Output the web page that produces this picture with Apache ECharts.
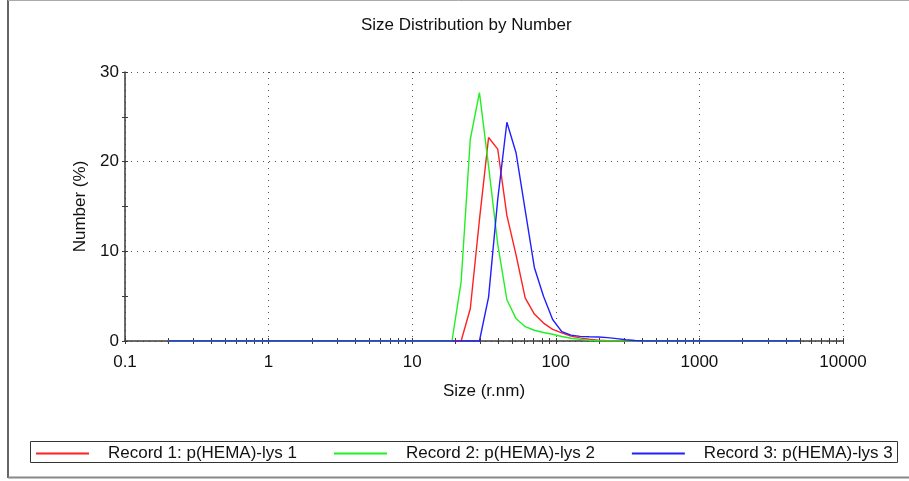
<!DOCTYPE html>
<html>
<head>
<meta charset="utf-8">
<script src="https://cdn.jsdelivr.net/npm/echarts@6/dist/echarts.min.js"></script>
<style>
  html, body { margin: 0; padding: 0; background: #fff; }
  #chart { width: 909px; height: 481px; }
</style>
</head>
<body>
<div id="chart"></div>
<script>
// Size classes (radius, nm)
const sizes = [0.2, 0.2316, 0.2683, 0.3107, 0.3598, 0.4166, 0.4825, 0.5585, 0.647, 0.7495,
  0.868, 1.005, 1.164, 1.348, 1.561, 1.808, 2.094, 2.425, 2.808, 3.252,
  3.766, 4.361, 5.05, 5.85, 6.77, 7.845, 9.085, 10.52, 12.18, 14.11,
  16.34, 18.92, 21.91, 25.38, 29.39, 34.03, 39.41, 45.64, 52.85, 61.2,
  70.9, 82.1, 95.05, 110.1, 127.5, 147.7, 171.0, 198.1, 229.4, 265.6,
  307.6, 356.2, 412.5, 477.7, 553.0, 640.5, 742.0, 859.0, 995.0, 1153,
  1335, 1546, 1790, 2073, 2401, 2780, 3220, 3728, 4318, 5000];

// Number (%) per size class
const record1 = [0, 0, 0, 0, 0, 0, 0, 0, 0, 0,
  0, 0, 0, 0, 0, 0, 0, 0, 0, 0,
  0, 0, 0, 0, 0, 0, 0, 0, 0, 0,
  0, 0, 0, 3.6, 13.5, 22.7, 21.4, 14.0, 9.6, 4.8,
  3.0, 2.0, 1.3, 0.9, 0.55, 0.35, 0.2, 0.1, 0.03, 0,
  0, 0, 0, 0, 0, 0, 0, 0, 0, 0,
  0, 0, 0, 0, 0, 0, 0, 0, 0, 0];
const record2 = [0, 0, 0, 0, 0, 0, 0, 0, 0, 0,
  0, 0, 0, 0, 0, 0, 0, 0, 0, 0,
  0, 0, 0, 0, 0, 0, 0, 0, 0, 0,
  0, 0, 6.6, 22.5, 27.7, 19.5, 10.8, 4.6, 2.5, 1.6,
  1.2, 0.95, 0.75, 0.5, 0.3, 0.18, 0.08, 0.02, 0, 0,
  0, 0, 0, 0, 0, 0, 0, 0, 0, 0,
  0, 0, 0, 0, 0, 0, 0, 0, 0, 0];
const record3 = [0, 0, 0, 0, 0, 0, 0, 0, 0, 0,
  0, 0, 0, 0, 0, 0, 0, 0, 0, 0,
  0, 0, 0, 0, 0, 0, 0, 0, 0, 0,
  0, 0, 0, 0, 0, 4.9, 15.8, 24.4, 21.0, 14.6,
  8.2, 5.0, 2.4, 1.05, 0.65, 0.52, 0.47, 0.45, 0.38, 0.26,
  0.14, 0.05, 0, 0, 0, 0, 0, 0, 0, 0,
  0, 0, 0, 0, 0, 0, 0, 0, 0, 0];

const seriesNames = ['Record 1: p(HEMA)-lys 1', 'Record 2: p(HEMA)-lys 2', 'Record 3: p(HEMA)-lys 3'];
const seriesColors = ['#ff2020', '#20f020', '#2020ff'];
const xTickLabels = [0.1, 1, 10, 100, 1000, 10000];

// Log-axis tick marks: decades plus 2..9 within each decade
const xTickValues = [];
for (let d = 0.1; d < 10000; d *= 10) {
  for (let m = 1; m < 10; m++) xTickValues.push(+(d * m).toPrecision(3));
}
xTickValues.push(10000);

const FONT = '"Liberation Sans", Arial, sans-serif';
const FS = 17;
const AXIS_COLOR = '#3a3a3a';
const DOTS = { color: '#555', type: [1, 5], width: 1 };

const pairs = (vals) => sizes.map((s, i) => [s, vals[i]]);

// Main x axis: line, labels, dotted decade grid
const xMain = {
  type: 'log', logBase: 10, min: 0.1, max: 10000, position: 'bottom',
  axisLine: { show: true, lineStyle: { color: AXIS_COLOR, width: 1.5 } },
  axisTick: { show: false },
  axisLabel: { margin: 13, color: '#111', fontFamily: FONT, fontSize: FS,
    customValues: xTickLabels, formatter: (v) => String(v) },
  splitLine: { show: true, lineStyle: DOTS },
  name: 'Size (r.nm)', nameLocation: 'middle', nameGap: 42,
  nameTextStyle: { color: '#111', fontFamily: FONT, fontSize: FS }
};
// Tick-only x axes (outside and inside halves of each tick mark)
function xTicks(inside) {
  return {
    type: 'log', logBase: 10, min: 0.1, max: 10000, position: 'bottom',
    axisLine: { show: false },
    axisTick: { show: true, inside: inside, length: 3, customValues: xTickValues,
      lineStyle: { color: AXIS_COLOR, width: 1 } },
    axisLabel: { show: false },
    splitLine: { show: false }
  };
}

function yAxisBase(inside, showAll) {
  return {
    type: 'value', min: 0, max: 30, interval: 10, position: 'left',
    axisLine: { show: showAll, lineStyle: { color: AXIS_COLOR, width: 1.5 } },
    axisTick: { show: true, inside: inside, length: 3, lineStyle: { color: AXIS_COLOR, width: 1 } },
    minorTick: { show: true, splitNumber: 2, length: 3, lineStyle: { color: AXIS_COLOR, width: 1 } },
    axisLabel: { show: showAll, margin: 6, color: '#111', fontFamily: FONT, fontSize: FS },
    splitLine: { show: showAll, lineStyle: DOTS },
    name: showAll ? 'Number (%)' : '',
    nameLocation: 'middle', nameGap: 30,
    nameTextStyle: { color: '#111', fontFamily: FONT, fontSize: FS }
  };
}

const chart = echarts.init(document.getElementById('chart'), null, { renderer: 'canvas' });

chart.setOption({
  backgroundColor: '#fff',
  animation: false,
  title: {
    text: 'Size Distribution by Number',
    left: 356, top: 12,
    textStyle: { color: '#111', fontFamily: FONT, fontSize: FS, fontWeight: 'normal' }
  },
  grid: { left: 125, right: 66, top: 72, bottom: 140 },
  xAxis: [xMain, xTicks(false), xTicks(true)],
  yAxis: [yAxisBase(false, true), yAxisBase(true, false)],
  legend: {
    left: 35, top: 445, padding: 0,
    itemWidth: 53, itemHeight: 16, itemGap: 36,
    selectedMode: false,
    itemStyle: { opacity: 0 },
    textStyle: { color: '#111', fontFamily: FONT, fontSize: FS, padding: [0, 0, 0, 14] },
    data: seriesNames
  },
  graphic: [
    { type: 'rect', shape: { x: 30.5, y: 441.5, width: 867, height: 21 },
      style: { fill: null, stroke: '#333', lineWidth: 1 }, silent: true },
    { type: 'line', shape: { x1: 8, y1: 0, x2: 8, y2: 478 },
      style: { stroke: '#666', lineWidth: 2 }, silent: true },
    { type: 'line', shape: { x1: 8, y1: 0.5, x2: 909, y2: 0.5 },
      style: { stroke: '#aaa', lineWidth: 1 }, silent: true },
    { type: 'line', shape: { x1: 8, y1: 477.5, x2: 909, y2: 477.5 },
      style: { stroke: '#888', lineWidth: 2 }, silent: true }
  ],
  series: seriesNames.map((name, i) => ({
    name: name,
    type: 'line',
    xAxisIndex: 0, yAxisIndex: 0,
    data: pairs([record1, record2, record3][i]),
    showSymbol: false,
    symbol: 'none',
    color: seriesColors[i],
    lineStyle: { color: seriesColors[i], width: 1.4 },
    itemStyle: { color: seriesColors[i] },
    z: 3 + i
  }))
});
</script>
</body>
</html>
